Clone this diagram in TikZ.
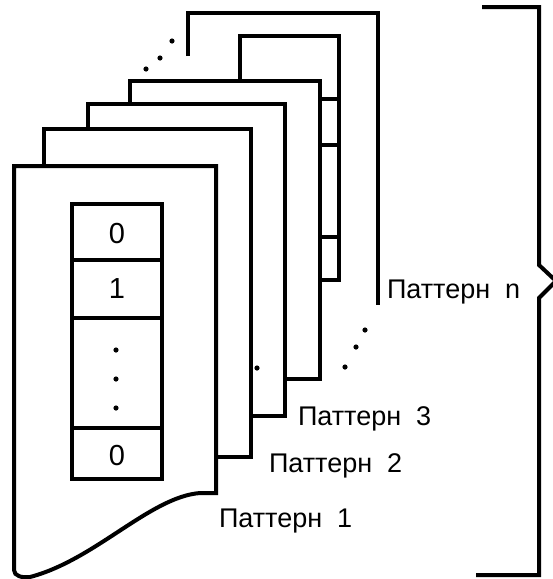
\documentclass[tikz,border=0pt]{standalone}
\usepackage{fontspec}
\setmainfont{Liberation Sans}
\usetikzlibrary{calc}

\begin{document}
\begin{tikzpicture}[x=1pt,y=-1pt,line width=4pt,line join=miter]
    % Sizes of the labels
    \def\lbl{\fontsize{27}{30}\selectfont}
    \def\dig{\fontsize{29}{32}\selectfont}
    \def\r{2.6} % radius of the dots

    \useasboundingbox (0,0) rectangle (553,579);

    % Corners of the sheets
    \coordinate (N0) at (188,13);
    \coordinate (N1) at (378,13);
    \coordinate (E0) at (240,36);
    \coordinate (E1) at (339,36);
    \coordinate (D0) at (130,81);
    \coordinate (D1) at (320,81);
    \coordinate (C0) at (88,104);
    \coordinate (C1) at (285,104);
    \coordinate (B0) at (44,129);
    \coordinate (B1) at (251,129);
    \coordinate (A0) at (14,166);
    \coordinate (A1) at (216,166);

    % Sheet n
    \draw (188,56) -- (N0) -- (N1) -- (378,305);
    % Sheet under it, with its cells
    \draw (240,81) -- (E0) -- (E1) -- (339,280) -- (320,280);
    \draw (320,99) -- (339,99);
    \draw (320,145) -- (339,145);
    \draw (320,237) -- (339,237);
    % Sheets 4, 3, 2
    \draw (130,104) -- (D0) -- (D1) -- (320,379) -- (285,379);
    \draw (88,129) -- (C0) -- (C1) -- (285,416) -- (251,416);
    \draw (44,166) -- (B0) -- (B1) -- (251,457) -- (216,457);

    % Front sheet with the wavy bottom
    \draw (A0) -- (A1) -- (216,493) -- (200,493)
        .. controls (150,497) and (95,560) .. (30,577)
        .. controls (22,578) and (14,576) .. (14,570) -- cycle;

    % Register in the front sheet
    \draw (72,204) rectangle (162,479);
    \draw (72,260) -- (162,260);
    \draw (72,318) -- (162,318);
    \draw (72,428) -- (162,428);
    \node (v0) at (117,234) {\dig 0};
    \node (v1) at (117,289) {\dig 1};
    \node (v2) at (117,456) {\dig 0};
    \foreach \y in {350,379,408}
        \fill (116,\y) circle (\r);

    % Dots between the sheets
    \fill (146,69) circle (\r);
    \fill (160,58) circle (\r);
    \fill (172,41) circle (\r);
    \fill (257,368) circle (\r);
    \fill (345,367) circle (\r);
    \fill (356,347) circle (\r);
    \fill (365,330) circle (\r);

    % Labels
    \node[anchor=west,inner sep=0pt] (pn) at (385,292) {\lbl Паттерн\ \ n};
    \node[anchor=west,inner sep=0pt] (p3) at (296,419) {\lbl Паттерн\ \ 3};
    \node[anchor=west,inner sep=0pt] (p2) at (267,466) {\lbl Паттерн\ \ 2};
    \node[anchor=west,inner sep=0pt] (p1) at (217,521) {\lbl Паттерн\ \ 1};

    % Brace
    \draw (482,7) -- (539,7) -- (539,265) -- (556,281) -- (539,298)
        -- (539,575) -- (476,575);
\end{tikzpicture}
\end{document}
